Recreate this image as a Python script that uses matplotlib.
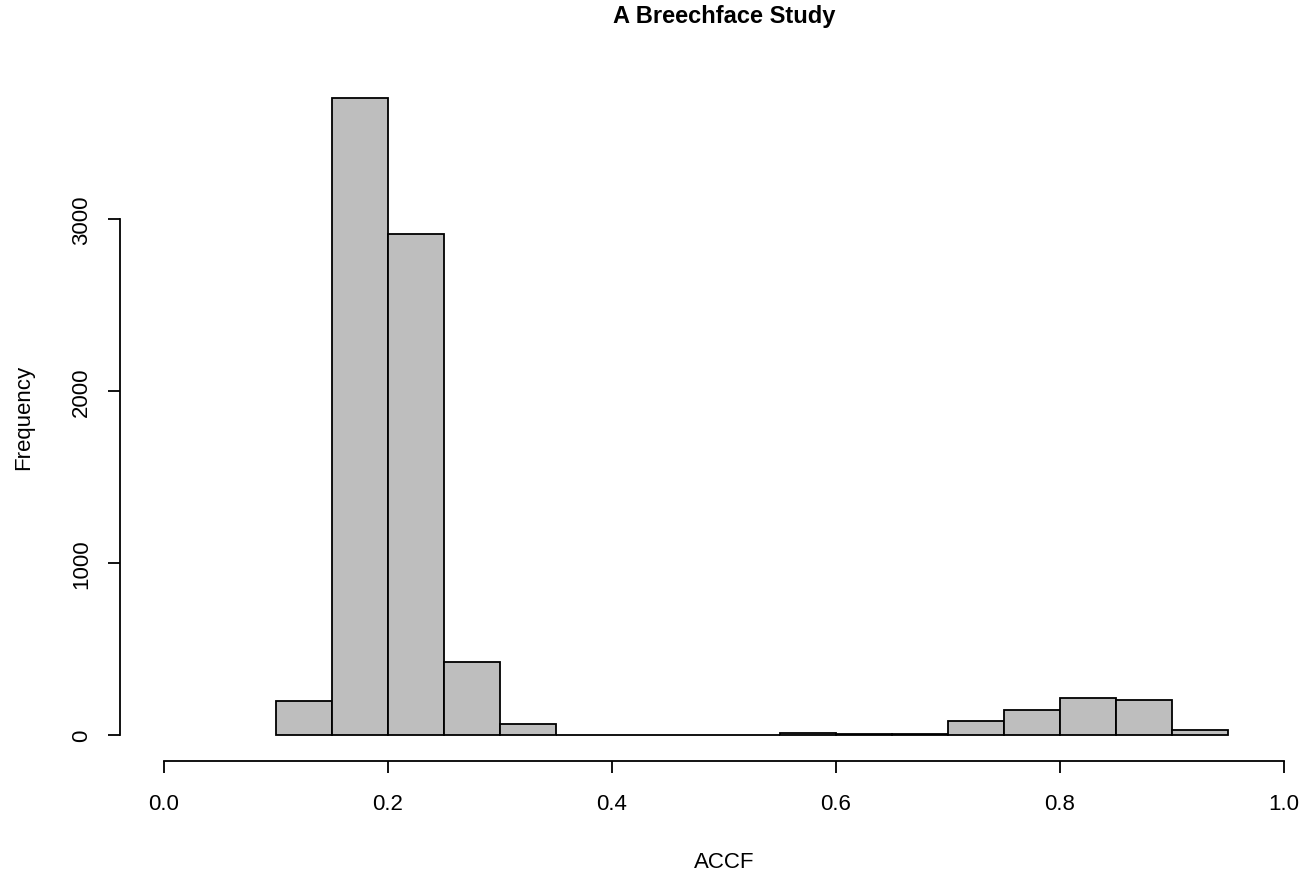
import numpy as np
import matplotlib
matplotlib.use("Agg")
import matplotlib.pyplot as plt

plt.rcParams['font.family'] = ['Liberation Sans', 'DejaVu Sans']

# histogram bins (left edges) and counts
bin_left = [0.10, 0.15, 0.20, 0.25, 0.30, 0.35, 0.40, 0.45, 0.50, 0.55,
            0.60, 0.65, 0.70, 0.75, 0.80, 0.85, 0.90]
counts = [198, 3709, 2913, 424, 65, 1, 1, 1, 1, 9,
          4, 4, 80, 147, 215, 205, 31]
bin_width = 0.05
x_ticks = [0.0, 0.2, 0.4, 0.6, 0.8, 1.0]
y_ticks = [0, 1000, 2000, 3000]

W, H = 1304, 878
fig = plt.figure(figsize=(W / 100, H / 100), dpi=100)
# plot region in pixels (R style)
left_px, right_px, top_px, bot_px = 120, 1304, 73, 761.5
ax = fig.add_axes([left_px / W, 1 - bot_px / H,
                   (right_px - left_px) / W, (bot_px - top_px) / H])

ax.bar(bin_left, counts, width=bin_width, align='edge',
       color='#bebebe', edgecolor='black', linewidth=1.3)

# 0.0 -> px 164, 1.0 -> px 1284
ax.set_xlim((left_px - 164) / 1120, (right_px - 164) / 1120)
ax.set_ylim(-0.04 * 3709, 1.04 * 3709)

for s in ['top', 'right']:
    ax.spines[s].set_visible(False)
ax.spines['left'].set_bounds(0, 3000)
ax.spines['bottom'].set_bounds(0, 1)
for s in ['left', 'bottom']:
    ax.spines[s].set_linewidth(1.3)

ax.set_xticks(x_ticks)
ax.set_xticklabels([f"{v:.1f}" for v in x_ticks])
ax.set_yticks(y_ticks)
ax.set_yticklabels([str(v) for v in y_ticks], rotation=90, va='center')
ax.tick_params(direction='out', length=8.6, width=1.3, labelsize=16,
               colors='black')
ax.tick_params(axis='x', pad=15)
ax.tick_params(axis='y', pad=11.5)

fig.text(724 / W, 1 - 863 / H, "ACCF", ha='center', va='center', fontsize=16)
fig.text(24 / W, 1 - 417 / H, "Frequency", ha='center', va='center',
         rotation=90, fontsize=16)
fig.text(724 / W, 1 - 17 / H, "A Breechface Study", ha='center', va='center',
         fontsize=17, fontweight='bold')

fig.savefig("out.png", dpi=100)
